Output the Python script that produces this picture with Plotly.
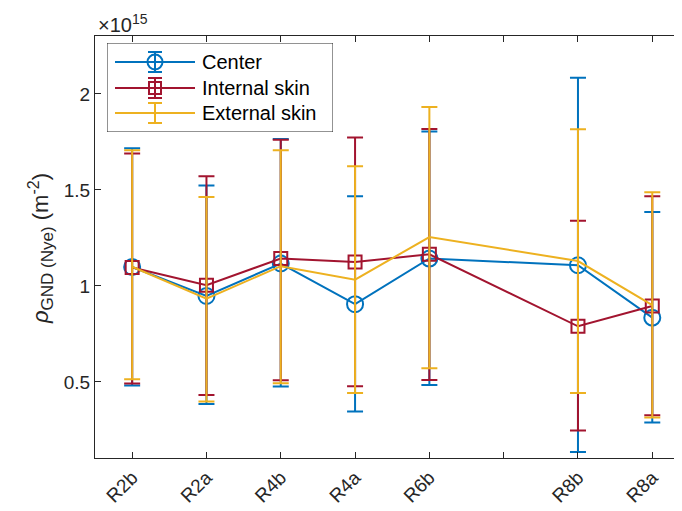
import plotly.graph_objects as go

# ---- data (values in units of 1e15 m^-2) ----
categories = ["R2b", "R2a", "R4b", "R4a", "R6b", "R8b", "R8a"]
x_pos = [1, 2, 3, 4, 5, 7, 8]
tick_vals = [1, 2, 3, 4, 5, 6, 7, 8]
tick_text = ["R2b", "R2a", "R4b", "R4a", "R6b", "", "R8b", "R8a"]
y_ticks = [0.5, 1, 1.5, 2]
y_tick_text = ["0.5", "1", "1.5", "2"]

center_mean = [1.099, 0.948, 1.117, 0.905, 1.143, 1.108, 0.835]
center_low = [0.481, 0.385, 0.476, 0.346, 0.484, 0.135, 0.289]
center_high = [1.717, 1.523, 1.766, 1.467, 1.804, 2.085, 1.385]

internal_mean = [1.096, 1.004, 1.143, 1.125, 1.165, 0.790, 0.896]
internal_low = [0.492, 0.432, 0.509, 0.478, 0.510, 0.247, 0.327]
internal_high = [1.690, 1.571, 1.762, 1.773, 1.818, 1.340, 1.467]

external_mean = [1.100, 0.934, 1.103, 1.033, 1.255, 1.130, 0.900]
external_low = [0.514, 0.398, 0.493, 0.443, 0.571, 0.443, 0.315]
external_high = [1.707, 1.464, 1.707, 1.623, 1.932, 1.816, 1.488]

BLUE = "#0072BD"
RED = "#A2142F"
YELLOW = "#EDB120"
AX = "#262626"
FONT = "Liberation Sans, Arial, sans-serif"

W, H = 682, 511
OFF = 8  # page body margin offset
# target plot box in window pixels: left 95, top 36, bottom 458, right 682
ML, MT = 95 - OFF, 36 - OFF
MR = W - (682 - OFF)
MB = H - (458 - OFF)
PW, PH = W - ML - MR, H - MT - MB


def px_x(p):  # window pixel -> paper x
    return (p - 95) / PW


def px_y(p):  # window pixel -> paper y
    return (458 - p) / PH


def err(mean, low, high, color):
    return dict(type="data", symmetric=False,
                array=[h - m for m, h in zip(mean, high)],
                arrayminus=[m - l for m, l in zip(mean, low)],
                color=color, thickness=2, width=8)


fig = go.Figure()
fig.add_trace(go.Scatter(
    x=x_pos, y=center_mean, mode="lines+markers", name="Center",
    line=dict(color=BLUE, width=2),
    marker=dict(symbol="circle-open", size=16, color=BLUE, line=dict(width=2)),
    error_y=err(center_mean, center_low, center_high, BLUE), showlegend=False))
fig.add_trace(go.Scatter(
    x=x_pos, y=internal_mean, mode="lines+markers", name="Internal skin",
    line=dict(color=RED, width=2),
    marker=dict(symbol="square-open", size=13, color=RED, line=dict(width=2)),
    error_y=err(internal_mean, internal_low, internal_high, RED), showlegend=False))
fig.add_trace(go.Scatter(
    x=x_pos, y=external_mean, mode="lines", name="External skin",
    line=dict(color=YELLOW, width=2),
    error_y=err(external_mean, external_low, external_high, YELLOW), showlegend=False))

# ---- legend drawn in an overlay axis measured in window pixels ----
LX0, LX1, LY0, LY1 = 107, 333, 43, 132
leg_names = ["Center", "Internal skin", "External skin"]
leg_colors = [BLUE, RED, YELLOW]
leg_symbols = ["circle-open", "square-open", None]
leg_sizes = [15, 12, 0]
leg_rows = [62, 88, 113]
for name, col, sym, sz, ry in zip(leg_names, leg_colors, leg_symbols, leg_sizes, leg_rows):
    fig.add_trace(go.Scatter(x=[115, 195], y=[ry, ry], mode="lines",
                             line=dict(color=col, width=2), xaxis="x2", yaxis="y2",
                             showlegend=False, hoverinfo="skip"))
    fig.add_trace(go.Scatter(
        x=[155], y=[ry], mode="markers", xaxis="x2", yaxis="y2", showlegend=False,
        hoverinfo="skip",
        marker=dict(symbol=sym if sym else "circle", size=sz if sz else 1,
                    color=col if sym else "rgba(0,0,0,0)", line=dict(width=2, color=col)),
        error_y=dict(type="data", array=[10], color=col, thickness=2, width=7)))
    fig.add_annotation(x=200, y=ry, xref="x2", yref="y2", text=name, showarrow=False,
                       xanchor="left", yanchor="middle",
                       font=dict(family=FONT, size=20, color="#000000"))

fig.add_shape(type="rect", xref="x2", yref="y2", x0=LX0, x1=LX1, y0=LY0, y1=LY1,
              line=dict(color=AX, width=1), fillcolor="white", layer="below")

fig.update_layout(
    width=W, height=H,
    margin=dict(l=ML, r=MR, t=MT, b=MB, autoexpand=False),
    paper_bgcolor="white", plot_bgcolor="rgba(0,0,0,0)",
    font=dict(family=FONT, size=18, color=AX),
    xaxis=dict(range=[0.5, 8.4], tickvals=tick_vals, ticktext=tick_text,
               tickangle=-45, ticks="inside", ticklen=6, tickcolor=AX, tickwidth=1,
               showline=True, linecolor=AX, linewidth=1, mirror="ticks",
               showgrid=False, zeroline=False, automargin=False,
               tickfont=dict(size=19, color=AX)),
    yaxis=dict(range=[0.104, 2.302], tickvals=y_ticks, ticktext=y_tick_text,
               ticks="inside", ticklen=6, tickcolor=AX, tickwidth=1,
               showline=True, linecolor=AX, linewidth=1, mirror=False,
               showgrid=False, zeroline=False, automargin=False,
               tickfont=dict(size=19, color=AX)),
    xaxis2=dict(domain=[px_x(LX0), px_x(LX1)], range=[LX0, LX1],
                visible=False, anchor="y2", fixedrange=True),
    yaxis2=dict(domain=[px_y(LY1), px_y(LY0)], range=[LY1, LY0],
                visible=False, anchor="x2", fixedrange=True),
)

# y-axis label and exponent
fig.add_annotation(
    x=px_x(41), y=px_y(249), xref="paper", yref="paper",
    text=("<i>ρ</i><sub><span style='font-size:17px'>GND (Nye)</span></sub>"
          " (m<sup><span style='font-size:16px'>-2</span></sup>)"),
    textangle=-90, showarrow=False, xanchor="center", yanchor="middle",
    font=dict(family=FONT, size=22, color=AX))
fig.add_annotation(x=px_x(96), y=px_y(38), xref="paper", yref="paper",
                   text="×10<sup>15</sup>",
                   showarrow=False, xanchor="left", yanchor="bottom",
                   font=dict(family=FONT, size=20, color=AX))

fig.write_html("out.html")
